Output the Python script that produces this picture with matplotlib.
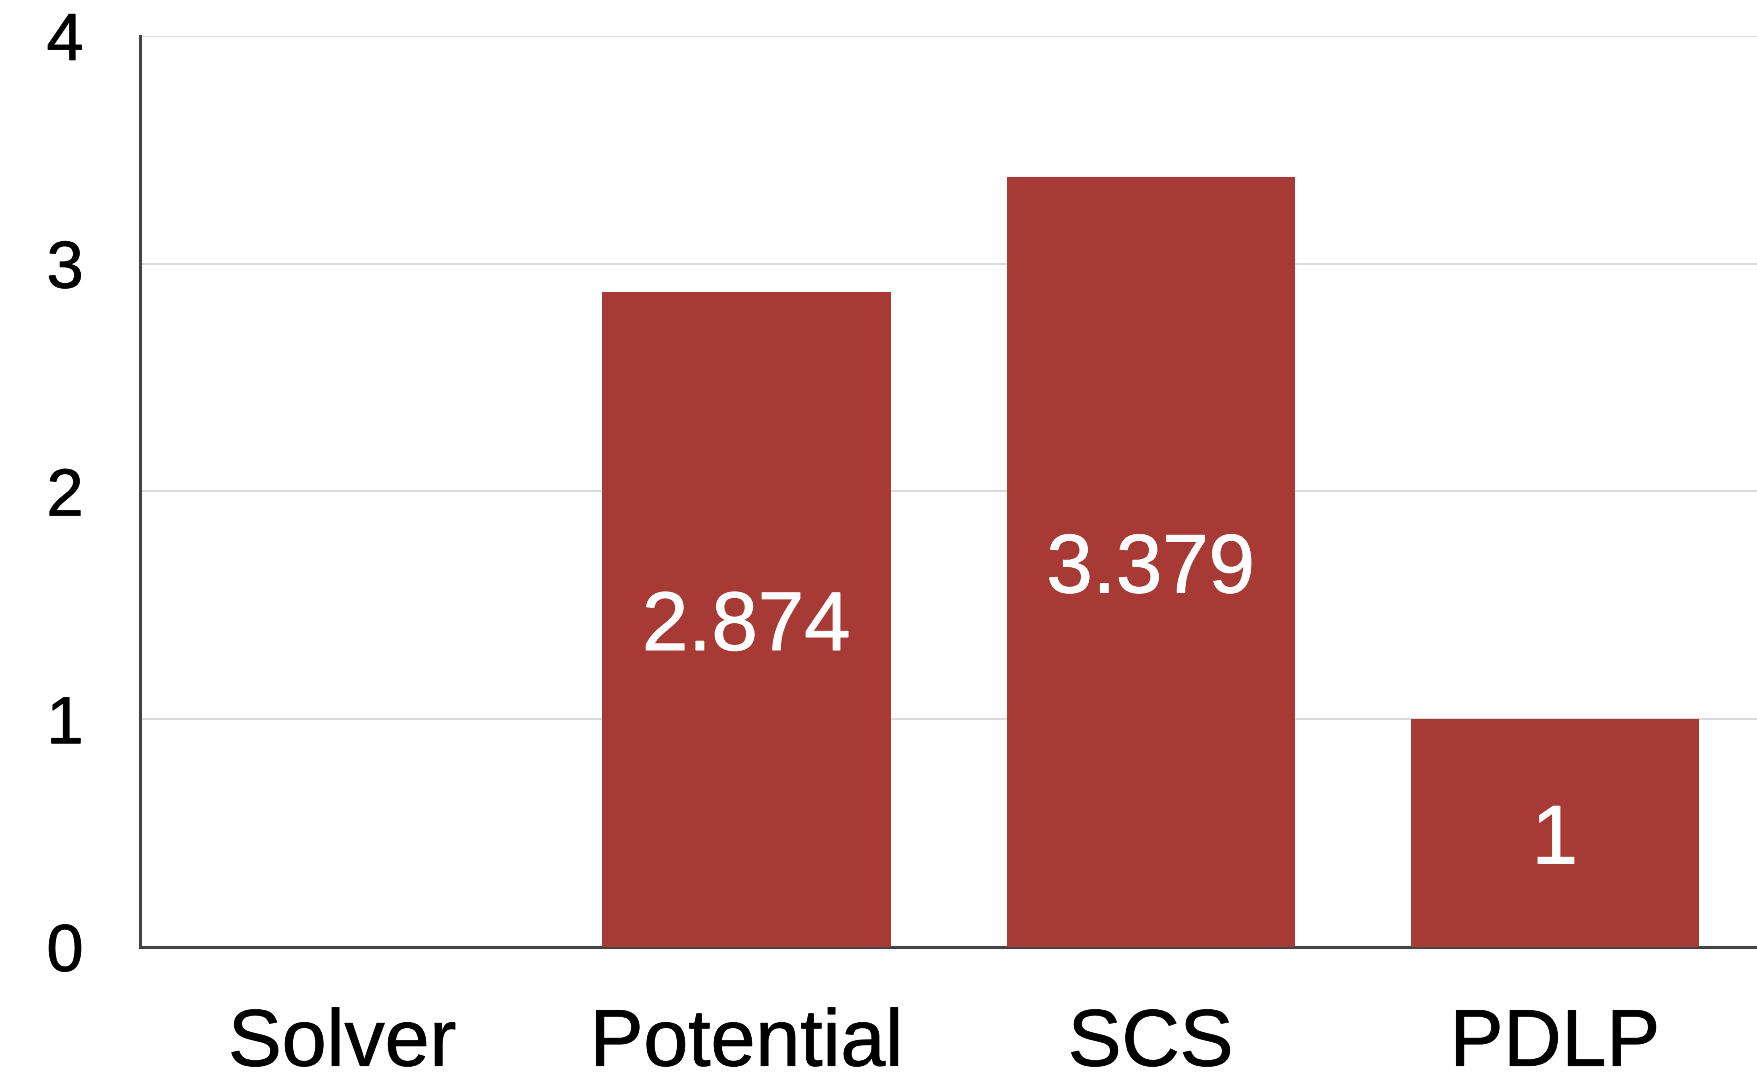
import matplotlib
matplotlib.use("Agg")
import matplotlib.pyplot as plt
import matplotlib.patheffects as pe
import numpy as np

# data
categories = ["Solver", "Potential", "SCS", "PDLP"]
values = [np.nan, 2.874, 3.379, 1.0]
value_labels = ["", "2.874", "3.379", "1"]
y_ticks = [0, 1, 2, 3, 4]

plt.rcParams["font.family"] = ["Liberation Sans", "DejaVu Sans"]

fig = plt.figure(figsize=(17.57, 10.77), dpi=100)
ax = fig.add_axes([0.0797, 0.1207, 0.9203, 0.8459])

x = np.arange(len(categories))
ax.bar(x, values, width=0.713, color="#A83A35", zorder=3)

# a faint stroke so the text looks a bit heavier, like the original
soft_white = [pe.withStroke(linewidth=0.6, foreground="white")]
soft_black = [pe.withStroke(linewidth=0.5, foreground="black")]

for xi, v, lbl in zip(x, values, value_labels):
    if not lbl:
        continue
    ax.annotate(lbl, (xi, v / 2), xytext=(0, -6), textcoords="offset points",
                ha="center", va="center", color="white", fontsize=60,
                path_effects=soft_white, zorder=4)

ax.set_xlim(-0.5, 3.5)
ax.set_ylim(0, 4)
ax.set_yticks(y_ticks)
ax.set_yticklabels([str(t) for t in y_ticks], fontsize=48)
ax.set_xticks(x)
ax.set_xticklabels(categories, fontsize=58)

ax.tick_params(axis="y", length=0, pad=54)
ax.tick_params(axis="x", length=0, pad=43)
for lab in ax.get_yticklabels():
    lab.set_horizontalalignment("center")
    lab.set_path_effects(soft_black)
for lab in ax.get_xticklabels():
    lab.set_path_effects(soft_black)

ax.grid(axis="y", color="#d4d4d4", linewidth=1.2, zorder=0)
ax.set_axisbelow(True)

for side in ["top", "right"]:
    ax.spines[side].set_visible(False)
for side in ["left", "bottom"]:
    ax.spines[side].set_color("#444444")
    ax.spines[side].set_linewidth(2.2)

fig.savefig("out.png", dpi=100)
